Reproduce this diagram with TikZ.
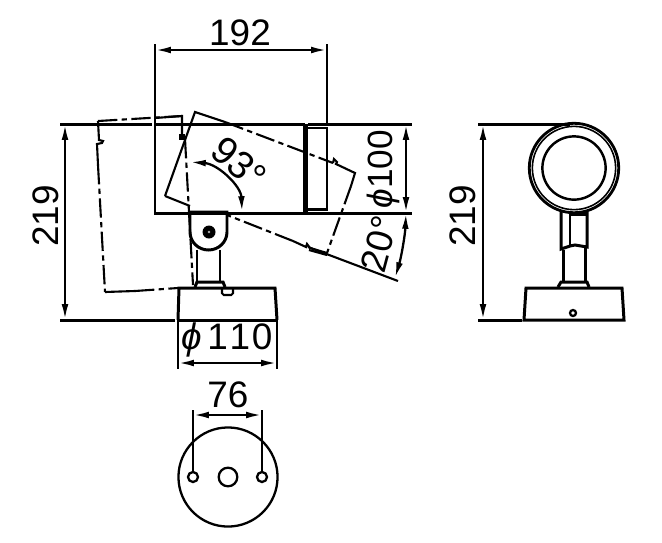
\documentclass[tikz,border=0pt]{standalone}
\usepackage{fontspec}
\setmainfont{Liberation Sans}
\usetikzlibrary{arrows.meta}

\begin{document}
\begin{tikzpicture}[
		x=0.02cm, y=-0.02cm,
		outline/.style={line width=1.7pt, black},
		thinline/.style={line width=1.2pt, black},
		hidden/.style={line width=1.2pt, black, dash pattern=on 11pt off 2.5pt on 3pt off 2.5pt},
		extline/.style={line width=1.7pt, black},
		dimline/.style={line width=1.3pt, black, {Latex[length=9pt,width=3.8pt]}-{Latex[length=9pt,width=3.8pt]}},
		dimtext/.style={font=\fontsize{21}{21}\selectfont, inner sep=0pt, text=black},
		holeshape/.style={circle, draw=black, line width=1.3pt, inner sep=0pt}
		]
		\useasboundingbox (0,0) rectangle (662,542);
		
		% Lamp, side view
		\draw[outline] (155,124) rectangle (304,213);
		\draw[line width=2.6pt] (305.5,124) -- (305.5,213);
		\draw[thinline] (308,128) -- (327,128) -- (327,210) -- (308,210);
		\draw[line width=2pt] (308,209.5) -- (327,209.5);
		
		% Lamp tilted down
		\draw[thinline] (165,196) -- (195,112) -- (225,122);
		\draw[hidden] (225,122) -- (333,163);
		\draw[thinline] (333,163) -- (334,159) -- (337,162) -- (336,164) -- (355,173) -- (351,186);
		\draw[hidden] (351,186) -- (327,253);
		\draw[thinline] (327,253) -- (310,248) -- (307,244) -- (306,247) -- (293,241);
		\draw[hidden] (293,241) -- (227,215);
		\draw[thinline] (165,196) -- (190,206);
		\draw[thinline] (309,250) -- (327,255);
		
		% Lamp tilted up
		\draw[hidden] (98,121) -- (182,116);
		\draw[thinline] (155,118) -- (182,116) -- (182,135);
		\draw[thinline] (98,121) -- (99,140) -- (103,141) -- (102,143) -- (97,144) -- (98,165);
		\draw[hidden] (98,165) -- (105,292);
		\draw[thinline] (105,292) -- (135,291);
		\draw[hidden] (135,291) -- (178,288);
		\node[fill=black, inner sep=0pt, minimum size=3.2pt] (clip) at (182,137) {};
		\draw[hidden] (185,139) -- (193,285);
		
		% Arm and base, side view
		\draw[outline] (190,212) -- (227,212) -- (227,232) arc[start angle=0, end angle=-180, x radius=18.5, y radius=-18] -- cycle;
		\node[circle, fill=black, minimum size=7.4pt, inner sep=0pt] (pivot) at (209,232) {};
		\node[circle, fill=white!70!black, minimum size=1.6pt, inner sep=0pt] (pivothole) at (209,232) {};
		\draw[outline] (197,250) -- (197,282) (220,250) -- (220,282);
		\draw[outline] (195,287) -- (197,282) -- (223,282) -- (225,287);
		\draw[outline] (178,320) -- (179,288) -- (275,288) -- (277,320);
		\draw[thinline, rounded corners=1pt] (222,288) -- (222,295) -- (233,295) -- (233,288);
		
		% Dimension 192
		\draw[extline] (155,44) -- (155,124);
		\draw[extline] (327,44) -- (327,124);
		\draw[dimline] (155,50) -- (327,50);
		\node[dimtext] (w192) at (240,32.5) {192};
		
		% Dimension 219, left
		\draw[extline] (60,124) -- (152,124);
		\draw[extline] (60,320) -- (175,320);
		\draw[outline] (178,320) -- (277,320);
		\draw[dimline] (65,124) -- (65,320);
		\node[dimtext, rotate=90] (h219a) at (46,216) {219};
		
		% Dimension phi 100 and 20 degrees
		\draw[extline] (308,124) -- (412,124);
		\draw[extline] (304,213) -- (412,213);
		\draw[dimline] (406,124) -- (406,213);
		\node[dimtext, rotate=90, font=\fontsize{20}{20}\selectfont] (d100) at (383,169) {\textit{ϕ}100};
		\draw[thinline] (308,247) -- (398,281);
		\draw[dimline] (406,213) .. controls (405,236) and (401,258) .. (395,278);
		\node[dimtext, rotate=75] (a20) at (379,244) {20°};
		
		% Angle 93 degrees
		\draw[dimline] (190,162) .. controls (218,164) and (241,186) .. (242,212);
		\node[dimtext, rotate=-40, font=\fontsize{22}{22}\selectfont] (a93) at (239,163) {93°};
		
		% Dimension phi 110
		\draw[extline] (178,320) -- (178,369);
		\draw[extline] (277,320) -- (277,369);
		\draw[dimline] (178,363) -- (277,363);
		\node[dimtext] (d110) at (227,340) {\textit{ϕ}\kern3pt 1\kern1pt 1\kern1pt 0};
		
		% Base, bottom view
		\node[holeshape, minimum size=56.4pt] (base) at (228,477) {};
		\node[holeshape, minimum size=10.6pt] (hole) at (228,477) {};
		\node[holeshape, minimum size=5.7pt] (holea) at (193,477) {};
		\node[holeshape, minimum size=5.7pt] (holeb) at (262,477) {};
		\draw[extline] (holea.north) -- (193,410);
		\draw[extline] (holeb.north) -- (262,410);
		\draw[dimline] (193,415) -- (262,415);
		\node[dimtext] (w76) at (228,395) {76};
		
		% Front view
		\node[circle, draw=black, line width=1.6pt, inner sep=0pt, minimum size=50.9pt] (ringa) at (574,168) {};
		\node[circle, draw=black, line width=0.9pt, inner sep=0pt, minimum size=47.4pt] (ringb) at (574,168) {};
		\node[circle, draw=black, line width=1.4pt, inner sep=0pt, minimum size=36pt] (ringc) at (574,168) {};
		\draw[outline] (561,212) -- (561,249) -- (570,246) -- (575,245) -- (587,247) -- (587,212);
		\draw[thinline] (570,213) -- (570,246);
		\draw[line width=2.4pt] (570,214) -- (587,214);
		\draw[outline] (563,250) -- (563,282) (585,247) -- (585,282);
		\draw[outline] (558,287) -- (561,282) -- (587,282) -- (589,287);
		\draw[outline] (524,320) -- (526,288) -- (622,288) -- (624,320) -- cycle;
		\node[holeshape, minimum size=3.4pt] (screw) at (573,313) {};
		
		% Dimension 219, right
		\draw[extline] (478,124) -- (570,124);
		\draw[extline] (478,320) -- (522,320);
		\draw[dimline] (483,124) -- (483,320);
		\node[dimtext, rotate=90] (h219b) at (463,216) {219};
		
	\end{tikzpicture}
\end{document}
